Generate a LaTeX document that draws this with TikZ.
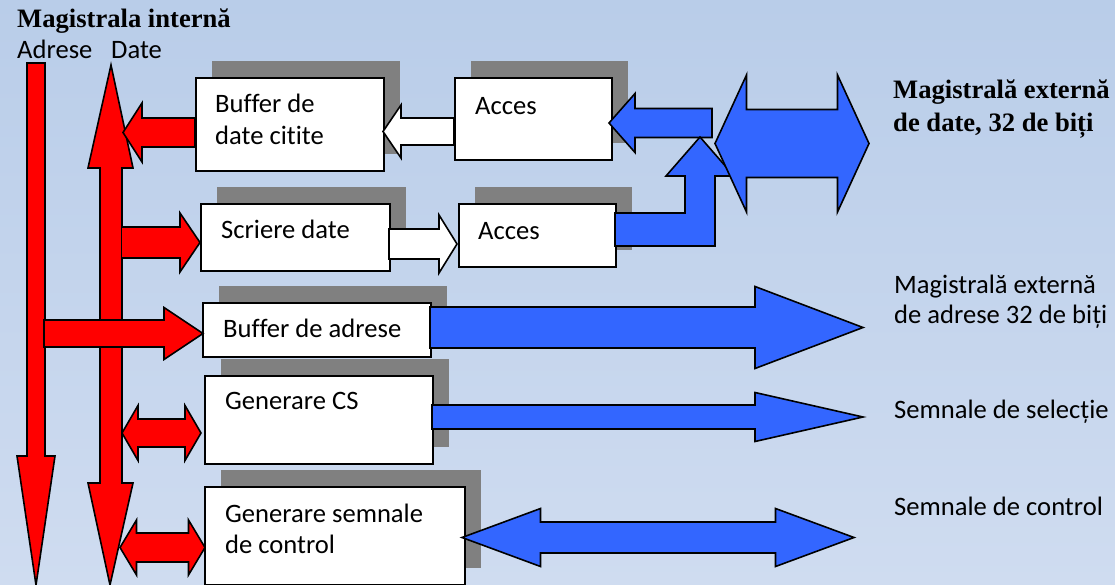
\documentclass[tikz,border=0pt]{standalone}
\usepackage{fontspec}
\setmainfont{Carlito}[Ligatures=NoCommon]
\newfontfamily\timesb{Liberation Serif}
\usetikzlibrary{shadows}
\definecolor{fundal}{RGB}{185,205,233}
\definecolor{fundaljos}{RGB}{207,220,240}
\definecolor{rosu}{RGB}{255,0,0}
\definecolor{albastru}{RGB}{51,102,255}
\definecolor{umbra}{RGB}{128,128,128}

% sageata orizontala: umplere, x start, x varf, y, semigrosime, semigrosime cap, lungime cap, inchidere
\newcommand{\hsag}[8]{%
  \fill[#1] (#2,{#4-#5}) -- ({#3-(#7)},{#4-#5}) -- ({#3-(#7)},{#4-#6}) -- (#3,#4)
    -- ({#3-(#7)},{#4+#6}) -- ({#3-(#7)},{#4+#5}) -- (#2,{#4+#5}) -- cycle;
  \draw[contur] (#2,{#4-#5}) -- ({#3-(#7)},{#4-#5}) -- ({#3-(#7)},{#4-#6}) -- (#3,#4)
    -- ({#3-(#7)},{#4+#6}) -- ({#3-(#7)},{#4+#5}) -- (#2,{#4+#5}) #8;}
% sageata dubla: umplere, x stanga, x dreapta, y, semigrosime, semigrosime cap, lungime cap
\newcommand{\dsag}[7]{%
  \filldraw[#1, contur] (#2,#4) -- ({#2+#7},{#4-#6}) -- ({#2+#7},{#4-#5}) -- ({#3-#7},{#4-#5})
    -- ({#3-#7},{#4-#6}) -- (#3,#4) -- ({#3-#7},{#4+#6}) -- ({#3-#7},{#4+#5})
    -- ({#2+#7},{#4+#5}) -- ({#2+#7},{#4+#6}) -- cycle;}

\begin{document}
\begin{tikzpicture}[x=1pt, y=-1pt,
    box/.style={draw=black, fill=white, line width=1.8pt, inner sep=0pt, anchor=north west,
      general shadow={fill=umbra, shadow xshift=16pt, shadow yshift=17pt}},
    contur/.style={draw=black, line width=1.6pt},
    txt/.style={anchor=base west, inner sep=0pt, font=\fontsize{26.6}{31}\selectfont},
    titlu/.style={txt, font=\timesb\bfseries\fontsize{26.6}{31}\selectfont}]
  \useasboundingbox (0,0) rectangle (1115,585);
  \shade[top color=fundal, bottom color=fundaljos] (0,0) rectangle (1115,585);

  \node[box, minimum width=188pt, minimum height=93pt] (bdc) at (195,77) {};
  \node[box, minimum width=157pt, minimum height=82pt] (acc1) at (454,77) {};
  \node[box, minimum width=189pt, minimum height=67pt] (scr) at (200,203) {};
  \node[box, minimum width=157pt, minimum height=63pt] (acc2) at (458,203) {};
  \node[box, minimum width=228pt, minimum height=54pt] (ba) at (202,302) {};
  \node[box, minimum width=228pt, minimum height=88pt] (cs) at (204,375) {};
  \node[box, minimum width=260pt, minimum height=98pt] (gsc) at (204,486) {};

  \filldraw[fill=rosu, contur] (27,63) -- (45,63) -- (45,456) -- (55,456) -- (36,585)
    -- (17,456) -- (27,456) -- cycle;
  \filldraw[fill=rosu, contur] (111,65) -- (133,168) -- (122,168) -- (122,483) -- (133,483)
    -- (110,585) -- (88,483) -- (100,483) -- (100,168) -- (88,168) -- cycle;

  \hsag{fill=rosu}{195}{123}{132.5}{14.5}{29.5}{-19}{-- cycle}
  \hsag{fill=rosu}{122}{200}{242.5}{15.5}{29.5}{20}{}
  \hsag{fill=rosu}{44}{203}{333.5}{13.5}{26}{39}{-- cycle}
  \dsag{fill=rosu}{122}{201}{433}{14}{27.5}{16}
  \dsag{fill=rosu}{120}{205}{547.5}{14.5}{27.5}{16.5}

  \hsag{fill=white}{454}{383}{131.5}{13.5}{26.5}{-18}{-- cycle}
  \hsag{fill=white}{389}{457}{244}{15}{29}{18}{-- cycle}

  \hsag{fill=albastru}{712}{609}{123}{14.5}{29.5}{-26}{-- cycle}
  \filldraw[fill=albastru, contur] (615,213) -- (685,213) -- (685,176) -- (666,176) -- (700,137)
    -- (734,176) -- (715,176) -- (715,246) -- (615,246) -- cycle;
  \hsag{fill=albastru}{430}{863}{327.5}{20.5}{41}{108}{-- cycle}
  \hsag{fill=albastru}{432}{863}{417}{12}{24.5}{108}{-- cycle}
  \dsag{fill=albastru}{462}{854}{537.5}{15.5}{29}{78.5}
  \dsag{fill=albastru}{715}{869}{143.5}{34}{68.5}{31.5}

  \node[titlu] (titlu) at (17,28) {Magistrala internă};
  \node[txt] (adr) at (17,59) {Adrese};
  \node[txt] (dat) at (111,59) {Date};
  \node[txt] (tbdc1) at (215,113) {Buffer de};
  \node[txt] (tbdc2) at (215,145) {date citite};
  \node[txt] (tacc1) at (475,115) {Acces};
  \node[txt] (tscr) at (221,238) {Scriere date};
  \node[txt] (tacc2) at (478,240) {Acces};
  \node[txt] (tba) at (223,337) {Buffer de adrese};
  \node[txt] (tcs) at (225,409) {Generare CS};
  \node[txt] (tgsc1) at (225,522) {Generare semnale};
  \node[txt] (tgsc2) at (225,553) {de control};
  \node[titlu] (ext1) at (893,99) {Magistrală externă};
  \node[titlu] (ext2) at (893,132) {de date, 32 de biți};
  \node[txt] (extadr1) at (894,293) {Magistrală externă};
  \node[txt] (extadr2) at (894,323) {de adrese 32 de biți};
  \node[txt] (sel) at (894,418) {Semnale de selecție};
  \node[txt] (ctl) at (894,515) {Semnale de control};
\end{tikzpicture}
\end{document}
